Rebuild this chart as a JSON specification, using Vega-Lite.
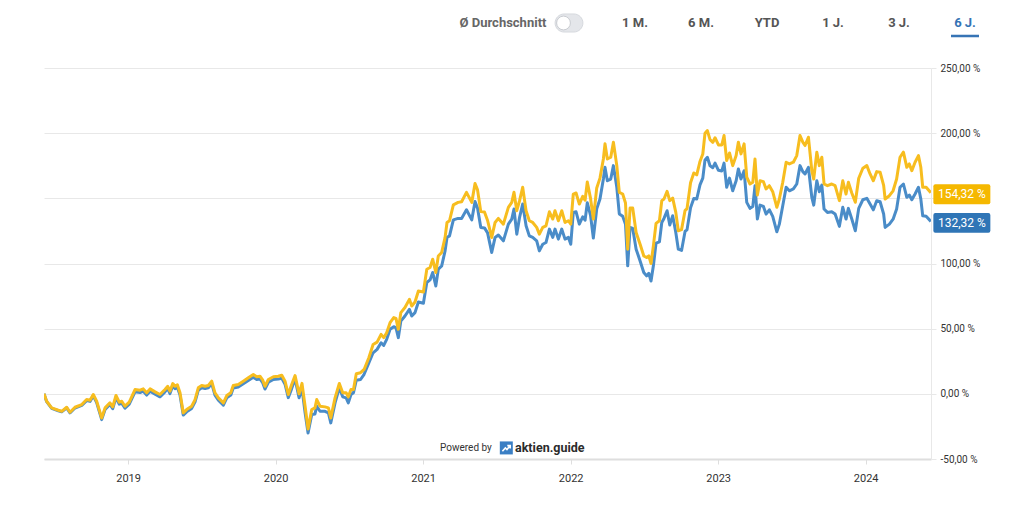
{
  "$schema": "https://vega.github.io/schema/vega-lite/v6.json",
  "padding": {"left": 44, "top": 0, "right": 10, "bottom": 6},
  "spacing": 15,
  "config": {"view": {"stroke": null}, "font": "Roboto"},
  "datasets": {
    "kurs": [
      {"t": 2018.430, "gelb": 0, "blau": 0},
      {"t": 2018.448, "gelb": -5.7, "blau": -6},
      {"t": 2018.482, "gelb": -10.8, "blau": -11.2},
      {"t": 2018.527, "gelb": -12.6, "blau": -13},
      {"t": 2018.550, "gelb": -13.4, "blau": -13.8},
      {"t": 2018.584, "gelb": -10.3, "blau": -10.8},
      {"t": 2018.606, "gelb": -14.1, "blau": -14.6},
      {"t": 2018.640, "gelb": -10.3, "blau": -10.9},
      {"t": 2018.686, "gelb": -8.2, "blau": -8.9},
      {"t": 2018.719, "gelb": -4.4, "blau": -5.2},
      {"t": 2018.742, "gelb": -4.9, "blau": -5.8},
      {"t": 2018.764, "gelb": -0.5, "blau": -1.5},
      {"t": 2018.787, "gelb": -5.7, "blau": -6.8},
      {"t": 2018.821, "gelb": -18.5, "blau": -19.8},
      {"t": 2018.844, "gelb": -10.8, "blau": -12},
      {"t": 2018.877, "gelb": -6.9, "blau": -8.2},
      {"t": 2018.896, "gelb": -10, "blau": -11.4},
      {"t": 2018.918, "gelb": -1.3, "blau": -2.8},
      {"t": 2018.940, "gelb": -6.4, "blau": -7.9},
      {"t": 2018.957, "gelb": -5.7, "blau": -7.2},
      {"t": 2018.979, "gelb": -9.5, "blau": -11},
      {"t": 2019.008, "gelb": -6.4, "blau": -7.9},
      {"t": 2019.047, "gelb": 3.3, "blau": 1.6},
      {"t": 2019.081, "gelb": 2.8, "blau": 1},
      {"t": 2019.103, "gelb": 3.8, "blau": 2},
      {"t": 2019.126, "gelb": 0.8, "blau": -1},
      {"t": 2019.149, "gelb": 3.8, "blau": 2},
      {"t": 2019.183, "gelb": 1.5, "blau": -0.3},
      {"t": 2019.216, "gelb": -0.5, "blau": -2.3},
      {"t": 2019.250, "gelb": 3.3, "blau": 1.5},
      {"t": 2019.269, "gelb": 5.8, "blau": 4},
      {"t": 2019.284, "gelb": 2, "blau": 0.2},
      {"t": 2019.303, "gelb": 7.9, "blau": 6},
      {"t": 2019.318, "gelb": 5.8, "blau": 4},
      {"t": 2019.334, "gelb": 6.9, "blau": 5},
      {"t": 2019.352, "gelb": 0.8, "blau": -1},
      {"t": 2019.374, "gelb": -14.6, "blau": -16.3},
      {"t": 2019.397, "gelb": -12.1, "blau": -13.8},
      {"t": 2019.431, "gelb": -9.5, "blau": -11.2},
      {"t": 2019.454, "gelb": -4.4, "blau": -6.1},
      {"t": 2019.476, "gelb": 4.6, "blau": 2.8},
      {"t": 2019.499, "gelb": 6.4, "blau": 4.6},
      {"t": 2019.522, "gelb": 5.8, "blau": 4},
      {"t": 2019.544, "gelb": 6.4, "blau": 4.6},
      {"t": 2019.567, "gelb": 9.7, "blau": 7.8},
      {"t": 2019.589, "gelb": 0.8, "blau": -1},
      {"t": 2019.612, "gelb": -3.1, "blau": -4.9},
      {"t": 2019.646, "gelb": -6.9, "blau": -8.7},
      {"t": 2019.669, "gelb": -1.3, "blau": -3.1},
      {"t": 2019.696, "gelb": 0.8, "blau": -1},
      {"t": 2019.713, "gelb": 6.4, "blau": 4.5},
      {"t": 2019.747, "gelb": 7.2, "blau": 5.3},
      {"t": 2019.781, "gelb": 9.7, "blau": 7.8},
      {"t": 2019.815, "gelb": 12.3, "blau": 10.3},
      {"t": 2019.849, "gelb": 14.8, "blau": 12.8},
      {"t": 2019.872, "gelb": 13.1, "blau": 11},
      {"t": 2019.894, "gelb": 13.5, "blau": 11.4},
      {"t": 2019.913, "gelb": 10.5, "blau": 8.4},
      {"t": 2019.928, "gelb": 5.8, "blau": 3.7},
      {"t": 2019.951, "gelb": 11, "blau": 8.9},
      {"t": 2019.985, "gelb": 13.1, "blau": 11},
      {"t": 2020.018, "gelb": 13.5, "blau": 11.3},
      {"t": 2020.042, "gelb": 14.3, "blau": 12},
      {"t": 2020.064, "gelb": 9.7, "blau": 7.4},
      {"t": 2020.086, "gelb": -0.5, "blau": -2.9},
      {"t": 2020.109, "gelb": 7.2, "blau": 4},
      {"t": 2020.132, "gelb": 14, "blau": 11.5},
      {"t": 2020.159, "gelb": 0, "blau": -3},
      {"t": 2020.179, "gelb": 8, "blau": 4},
      {"t": 2020.200, "gelb": -9.5, "blau": -14.6},
      {"t": 2020.220, "gelb": -27, "blau": -30},
      {"t": 2020.245, "gelb": -12.1, "blau": -15.9},
      {"t": 2020.267, "gelb": -10.8, "blau": -15.4},
      {"t": 2020.279, "gelb": -4.4, "blau": -9.5},
      {"t": 2020.301, "gelb": -9.5, "blau": -13.4},
      {"t": 2020.335, "gelb": -10, "blau": -13.4},
      {"t": 2020.358, "gelb": -10.8, "blau": -14.6},
      {"t": 2020.374, "gelb": -18.5, "blau": -22.3},
      {"t": 2020.403, "gelb": -3.1, "blau": -6.9},
      {"t": 2020.432, "gelb": 7.9, "blau": 4.6},
      {"t": 2020.455, "gelb": 0.8, "blau": -2.3},
      {"t": 2020.478, "gelb": 0.8, "blau": -3.1},
      {"t": 2020.493, "gelb": -2.3, "blau": -6.9},
      {"t": 2020.511, "gelb": 3.3, "blau": -0.5},
      {"t": 2020.528, "gelb": 3.3, "blau": 0.8},
      {"t": 2020.547, "gelb": 15.4, "blau": 10.5},
      {"t": 2020.576, "gelb": 16.2, "blau": 11},
      {"t": 2020.600, "gelb": 18.7, "blau": 15},
      {"t": 2020.632, "gelb": 27.7, "blau": 23.8},
      {"t": 2020.661, "gelb": 37.9, "blau": 31.5},
      {"t": 2020.688, "gelb": 39.7, "blau": 34.1},
      {"t": 2020.715, "gelb": 45.6, "blau": 39.2},
      {"t": 2020.733, "gelb": 43.1, "blau": 37.2},
      {"t": 2020.753, "gelb": 46.9, "blau": 41.8},
      {"t": 2020.776, "gelb": 54.6, "blau": 49.5},
      {"t": 2020.801, "gelb": 58.5, "blau": 51.5},
      {"t": 2020.816, "gelb": 57.9, "blau": 50.8},
      {"t": 2020.832, "gelb": 49.5, "blau": 43.1},
      {"t": 2020.849, "gelb": 62.3, "blau": 55.8},
      {"t": 2020.877, "gelb": 66.2, "blau": 59.7},
      {"t": 2020.907, "gelb": 72.5, "blau": 64.8},
      {"t": 2020.923, "gelb": 67.4, "blau": 59.7},
      {"t": 2020.945, "gelb": 70.5, "blau": 62.3},
      {"t": 2020.968, "gelb": 78.9, "blau": 70.5},
      {"t": 2021.002, "gelb": 78.2, "blau": 69.5},
      {"t": 2021.025, "gelb": 95.6, "blau": 85.4},
      {"t": 2021.047, "gelb": 96.9, "blau": 87.4},
      {"t": 2021.065, "gelb": 103.3, "blau": 93.1},
      {"t": 2021.086, "gelb": 93.1, "blau": 82.8},
      {"t": 2021.103, "gelb": 105.8, "blau": 95.6},
      {"t": 2021.126, "gelb": 108.5, "blau": 98.2},
      {"t": 2021.149, "gelb": 120, "blau": 109.7},
      {"t": 2021.162, "gelb": 131.5, "blau": 120},
      {"t": 2021.179, "gelb": 132.8, "blau": 121.2},
      {"t": 2021.205, "gelb": 145, "blau": 133.5},
      {"t": 2021.237, "gelb": 146.9, "blau": 134.6},
      {"t": 2021.261, "gelb": 147.4, "blau": 134.6},
      {"t": 2021.294, "gelb": 154.6, "blau": 141.2},
      {"t": 2021.330, "gelb": 146.9, "blau": 133.5},
      {"t": 2021.352, "gelb": 161.4, "blau": 147.5},
      {"t": 2021.369, "gelb": 156.5, "blau": 142.5},
      {"t": 2021.391, "gelb": 139.8, "blau": 127.7},
      {"t": 2021.416, "gelb": 139.5, "blau": 127.3},
      {"t": 2021.437, "gelb": 133, "blau": 123.5},
      {"t": 2021.465, "gelb": 120, "blau": 108.5},
      {"t": 2021.488, "gelb": 131.5, "blau": 120},
      {"t": 2021.510, "gelb": 134.6, "blau": 121.8},
      {"t": 2021.544, "gelb": 130.2, "blau": 117.4},
      {"t": 2021.578, "gelb": 143.1, "blau": 130.2},
      {"t": 2021.601, "gelb": 146.9, "blau": 134.1},
      {"t": 2021.616, "gelb": 154.6, "blau": 141.8},
      {"t": 2021.635, "gelb": 140.5, "blau": 122.5},
      {"t": 2021.654, "gelb": 148.2, "blau": 135.4},
      {"t": 2021.675, "gelb": 158.5, "blau": 145.6},
      {"t": 2021.698, "gelb": 140.5, "blau": 128.9},
      {"t": 2021.720, "gelb": 132.8, "blau": 121.2},
      {"t": 2021.743, "gelb": 131.5, "blau": 120},
      {"t": 2021.770, "gelb": 127.7, "blau": 117.4},
      {"t": 2021.788, "gelb": 122.5, "blau": 109.7},
      {"t": 2021.811, "gelb": 127.7, "blau": 114.8},
      {"t": 2021.833, "gelb": 128.9, "blau": 116.1},
      {"t": 2021.856, "gelb": 139.7, "blau": 126.4},
      {"t": 2021.879, "gelb": 134.1, "blau": 120},
      {"t": 2021.894, "gelb": 140.5, "blau": 126.4},
      {"t": 2021.917, "gelb": 132.8, "blau": 118.7},
      {"t": 2021.940, "gelb": 140.5, "blau": 126.4},
      {"t": 2021.962, "gelb": 131.5, "blau": 118.7},
      {"t": 2021.985, "gelb": 132.8, "blau": 120},
      {"t": 2022.001, "gelb": 130.2, "blau": 114.8},
      {"t": 2022.018, "gelb": 153.3, "blau": 139.2},
      {"t": 2022.037, "gelb": 154.1, "blau": 139.7},
      {"t": 2022.059, "gelb": 145.6, "blau": 130.2},
      {"t": 2022.082, "gelb": 151.5, "blau": 135.8},
      {"t": 2022.098, "gelb": 148.5, "blau": 133.2},
      {"t": 2022.113, "gelb": 162.5, "blau": 146.6},
      {"t": 2022.135, "gelb": 150, "blau": 137},
      {"t": 2022.154, "gelb": 134.1, "blau": 119.5},
      {"t": 2022.177, "gelb": 158, "blau": 142},
      {"t": 2022.199, "gelb": 165.5, "blau": 149.5},
      {"t": 2022.222, "gelb": 180.2, "blau": 164.8},
      {"t": 2022.233, "gelb": 191.8, "blau": 173.8},
      {"t": 2022.249, "gelb": 180.2, "blau": 163.5},
      {"t": 2022.272, "gelb": 181.5, "blau": 164.8},
      {"t": 2022.290, "gelb": 193.1, "blau": 175.1},
      {"t": 2022.313, "gelb": 175.1, "blau": 158.5},
      {"t": 2022.330, "gelb": 154.6, "blau": 138},
      {"t": 2022.353, "gelb": 153.3, "blau": 136.2},
      {"t": 2022.372, "gelb": 146.4, "blau": 130.2},
      {"t": 2022.387, "gelb": 111, "blau": 98.2},
      {"t": 2022.403, "gelb": 142.5, "blau": 127.7},
      {"t": 2022.421, "gelb": 142.5, "blau": 126.9},
      {"t": 2022.444, "gelb": 123.8, "blau": 111},
      {"t": 2022.471, "gelb": 114.8, "blau": 102},
      {"t": 2022.496, "gelb": 105.8, "blau": 93.1},
      {"t": 2022.515, "gelb": 104.6, "blau": 90.5},
      {"t": 2022.530, "gelb": 105.8, "blau": 92.5},
      {"t": 2022.545, "gelb": 100, "blau": 86.6},
      {"t": 2022.561, "gelb": 113.5, "blau": 98.2},
      {"t": 2022.579, "gelb": 130.8, "blau": 115.6},
      {"t": 2022.602, "gelb": 132.8, "blau": 116.6},
      {"t": 2022.618, "gelb": 148.2, "blau": 131.5},
      {"t": 2022.633, "gelb": 149.5, "blau": 134.6},
      {"t": 2022.654, "gelb": 155.4, "blau": 140.5},
      {"t": 2022.672, "gelb": 148.2, "blau": 129.5},
      {"t": 2022.692, "gelb": 150.2, "blau": 136.6},
      {"t": 2022.713, "gelb": 139.2, "blau": 123.8},
      {"t": 2022.730, "gelb": 125.1, "blau": 111},
      {"t": 2022.752, "gelb": 126, "blau": 110},
      {"t": 2022.776, "gelb": 140.8, "blau": 124.7},
      {"t": 2022.789, "gelb": 142, "blau": 125.8},
      {"t": 2022.813, "gelb": 162, "blau": 142.7},
      {"t": 2022.835, "gelb": 169.5, "blau": 149.8},
      {"t": 2022.855, "gelb": 168, "blau": 149.5},
      {"t": 2022.877, "gelb": 178.3, "blau": 160.3},
      {"t": 2022.896, "gelb": 184, "blau": 165.5},
      {"t": 2022.911, "gelb": 200, "blau": 179.5},
      {"t": 2022.927, "gelb": 202, "blau": 181.5},
      {"t": 2022.945, "gelb": 195, "blau": 175},
      {"t": 2022.964, "gelb": 193, "blau": 173.5},
      {"t": 2022.979, "gelb": 196.5, "blau": 177},
      {"t": 2023.002, "gelb": 191, "blau": 171.5},
      {"t": 2023.025, "gelb": 191, "blau": 171},
      {"t": 2023.040, "gelb": 198.2, "blau": 177},
      {"t": 2023.058, "gelb": 179, "blau": 158.5},
      {"t": 2023.077, "gelb": 184.8, "blau": 165.5},
      {"t": 2023.099, "gelb": 175.1, "blau": 155.8},
      {"t": 2023.122, "gelb": 182.8, "blau": 163.5},
      {"t": 2023.137, "gelb": 193.1, "blau": 172.5},
      {"t": 2023.155, "gelb": 184.1, "blau": 164.8},
      {"t": 2023.176, "gelb": 191.8, "blau": 171.2},
      {"t": 2023.194, "gelb": 166.2, "blau": 146.9},
      {"t": 2023.216, "gelb": 161, "blau": 142.3},
      {"t": 2023.235, "gelb": 162.3, "blau": 143.8},
      {"t": 2023.250, "gelb": 180.2, "blau": 159.7},
      {"t": 2023.266, "gelb": 152.5, "blau": 134.1},
      {"t": 2023.284, "gelb": 163.5, "blau": 144.8},
      {"t": 2023.307, "gelb": 162.8, "blau": 143.8},
      {"t": 2023.325, "gelb": 157.2, "blau": 137.9},
      {"t": 2023.347, "gelb": 159.7, "blau": 141.2},
      {"t": 2023.370, "gelb": 155.1, "blau": 136.2},
      {"t": 2023.398, "gelb": 143.1, "blau": 124.3},
      {"t": 2023.415, "gelb": 149.5, "blau": 130.2},
      {"t": 2023.438, "gelb": 162.3, "blau": 144.3},
      {"t": 2023.461, "gelb": 177.7, "blau": 158.5},
      {"t": 2023.483, "gelb": 176.4, "blau": 155.8},
      {"t": 2023.510, "gelb": 177.7, "blau": 157.2},
      {"t": 2023.533, "gelb": 182.8, "blau": 161},
      {"t": 2023.555, "gelb": 198.2, "blau": 175.1},
      {"t": 2023.574, "gelb": 193.1, "blau": 170.5},
      {"t": 2023.589, "gelb": 190.5, "blau": 168.7},
      {"t": 2023.612, "gelb": 196.9, "blau": 173.8},
      {"t": 2023.635, "gelb": 171.2, "blau": 150.8},
      {"t": 2023.648, "gelb": 164.8, "blau": 144.8},
      {"t": 2023.669, "gelb": 185.4, "blau": 163.5},
      {"t": 2023.686, "gelb": 175.1, "blau": 155.1},
      {"t": 2023.703, "gelb": 181.5, "blau": 160.2},
      {"t": 2023.718, "gelb": 161, "blau": 141.8},
      {"t": 2023.741, "gelb": 159.7, "blau": 139.2},
      {"t": 2023.770, "gelb": 161, "blau": 139.7},
      {"t": 2023.793, "gelb": 159.7, "blau": 137.9},
      {"t": 2023.822, "gelb": 148.2, "blau": 128.5},
      {"t": 2023.845, "gelb": 163.5, "blau": 143.1},
      {"t": 2023.867, "gelb": 153.3, "blau": 134.1},
      {"t": 2023.883, "gelb": 162.3, "blau": 142.3},
      {"t": 2023.906, "gelb": 154.1, "blau": 134.1},
      {"t": 2023.930, "gelb": 147, "blau": 125.1},
      {"t": 2023.953, "gelb": 165.4, "blau": 142.3},
      {"t": 2023.981, "gelb": 173.1, "blau": 148.9},
      {"t": 2024.008, "gelb": 175.1, "blau": 150},
      {"t": 2024.030, "gelb": 168.7, "blau": 145.6},
      {"t": 2024.052, "gelb": 163.5, "blau": 141.2},
      {"t": 2024.075, "gelb": 170.5, "blau": 148.2},
      {"t": 2024.098, "gelb": 170, "blau": 147.4},
      {"t": 2024.122, "gelb": 160, "blau": 138},
      {"t": 2024.132, "gelb": 149.5, "blau": 127.7},
      {"t": 2024.161, "gelb": 152, "blau": 130.2},
      {"t": 2024.186, "gelb": 155.8, "blau": 134},
      {"t": 2024.210, "gelb": 164.8, "blau": 141.8},
      {"t": 2024.233, "gelb": 181.5, "blau": 158.5},
      {"t": 2024.256, "gelb": 185.4, "blau": 161},
      {"t": 2024.279, "gelb": 173.8, "blau": 150.8},
      {"t": 2024.296, "gelb": 176.4, "blau": 152.5},
      {"t": 2024.313, "gelb": 171.2, "blau": 148.9},
      {"t": 2024.335, "gelb": 177.7, "blau": 153.3},
      {"t": 2024.358, "gelb": 182.8, "blau": 158.5},
      {"t": 2024.374, "gelb": 173.8, "blau": 149.5},
      {"t": 2024.387, "gelb": 158.5, "blau": 136.6},
      {"t": 2024.410, "gelb": 158.5, "blau": 136.2},
      {"t": 2024.442, "gelb": 154.32, "blau": 132.32}
    ]
  },
  "vconcat": [
    {
      "width": 950,
      "height": 48,
      "data": {
        "values": [
          {"item": "Ø Durchschnitt", "art": "label"},
          {"item": "toggle", "art": "toggle"},
          {"item": "1 M.", "art": "text"},
          {"item": "6 M.", "art": "text"},
          {"item": "YTD", "art": "text"},
          {"item": "1 J.", "art": "text"},
          {"item": "3 J.", "art": "text"},
          {"item": "6 J.", "art": "aktiv"}
        ]
      },
      "encoding": {
        "x": {
          "field": "item",
          "type": "nominal",
          "scale": {
            "type": "point",
            "domain": ["Ø Durchschnitt", "toggle", "1 M.", "6 M.", "YTD", "1 J.", "3 J.", "6 J."],
            "range": [459, 921],
            "padding": 0
          },
          "axis": null
        }
      },
      "layer": [
        {
          "transform": [{"filter": "datum.art != 'toggle'"}],
          "mark": {"type": "text", "fontSize": 13, "fontWeight": "bold", "baseline": "middle", "yOffset": -1},
          "encoding": {
            "text": {"field": "item"},
            "color": {
              "field": "art",
              "type": "nominal",
              "scale": {"domain": ["label", "text", "aktiv"], "range": ["#666666", "#555555", "#3674b5"]},
              "legend": null
            }
          }
        },
        {
          "transform": [{"filter": "datum.art == 'aktiv'"}],
          "mark": {"type": "point", "shape": "M-1,-0.09L1,-0.09L1,0.09L-1,0.09Z", "size": 784, "filled": true, "opacity": 1, "color": "#3674b5", "yOffset": 12}
        },
        {
          "transform": [{"filter": "datum.art == 'toggle'"}],
          "mark": {"type": "point", "shape": "M-0.4,-0.74L0.4,-0.74A0.74,0.74 0 0 1 0.4,0.74L-0.4,0.74A0.74,0.74 0 0 1 -0.4,-0.74Z", "size": 595, "filled": true, "opacity": 1, "fill": "#e4e6ea", "stroke": "#d6d9de", "strokeWidth": 1, "yOffset": -1}
        },
        {
          "transform": [{"filter": "datum.art == 'toggle'"}],
          "mark": {"type": "point", "shape": "circle", "size": 190, "filled": true, "opacity": 1, "fill": "#ffffff", "stroke": "#c9ccd1", "strokeWidth": 1, "xOffset": -5.5, "yOffset": -1}
        }
      ]
    },
    {
      "width": 887,
      "height": 391,
      "layer": [
        {
          "data": {"name": "kurs"},
          "transform": [{"fold": ["blau"], "as": ["serie", "wert"]}],
          "mark": {"type": "line", "color": "#4a8cc8", "strokeWidth": 3, "strokeJoin": "round", "clip": true},
          "encoding": {
            "x": {
              "field": "t",
              "type": "quantitative",
              "scale": {"domain": [2018.43, 2024.443], "nice": false, "zero": false},
              "axis": {
                "title": null,
                "values": [2019, 2020, 2021, 2022, 2023, 2024],
                "format": "d",
                "grid": false,
                "domainColor": "#dedede",
                "domainWidth": 2,
                "tickColor": "#dedede",
                "tickSize": 5,
                "labelColor": "#333333",
                "labelFontSize": 11,
                "labelPadding": 8
              }
            },
            "y": {
              "field": "wert",
              "type": "quantitative",
              "scale": {"domain": [-50, 250], "nice": false},
              "axis": {
                "orient": "right",
                "title": null,
                "values": [-50, 0, 50, 100, 150, 200, 250],
                "grid": true,
                "gridColor": "#e8e8e8",
                "domainColor": "#e8e8e8",
                "tickColor": "#e8e8e8",
                "tickSize": 5,
                "labelPadding": 4,
                "labelFontSize": 10,
                "labelColor": "#333333",
                "labelExpr": "datum.value == 150 ? '' : replace(replace(format(datum.value, '.2f'), '.', ','), '\u2212', '-') + ' %'"
              }
            }
          }
        },
        {
          "data": {"name": "kurs"},
          "transform": [{"fold": ["gelb"], "as": ["serie", "wert"]}],
          "mark": {"type": "line", "color": "#f7bd1f", "strokeWidth": 3, "strokeJoin": "round", "clip": true},
          "encoding": {
            "x": {"field": "t", "type": "quantitative", "scale": {"domain": [2018.43, 2024.443], "nice": false, "zero": false}},
            "y": {"field": "wert", "type": "quantitative", "scale": {"domain": [-50, 250], "nice": false}}
          }
        },
        {
          "data": {
            "values": [
              {"serie": "gelb", "t": 2024.442, "wert": 154.32, "text": "154,32 %"},
              {"serie": "blau", "t": 2024.442, "wert": 132.32, "text": "132,32 %"}
            ]
          },
          "encoding": {
            "x": {"field": "t", "type": "quantitative", "scale": {"domain": [2018.43, 2024.443], "nice": false, "zero": false}},
            "y": {"field": "wert", "type": "quantitative", "scale": {"domain": [-50, 250], "nice": false}}
          },
          "layer": [
            {
              "mark": {"type": "point", "shape": "M-0.93,-0.35L0.93,-0.35Q1,-0.35 1,-0.28L1,0.28Q1,0.35 0.93,0.35L-0.93,0.35Q-1,0.35 -1,0.28L-1,-0.28Q-1,-0.35 -0.93,-0.35Z", "size": 3249, "filled": true, "opacity": 1, "strokeWidth": 0, "xOffset": 31, "yOffset": 1.5},
              "encoding": {
                "fill": {
                  "field": "serie",
                  "type": "nominal",
                  "scale": {"domain": ["blau", "gelb"], "range": ["#2f75b6", "#f5b800"]},
                  "legend": null
                }
              }
            },
            {
              "mark": {"type": "text", "color": "#ffffff", "fontSize": 12, "align": "center", "baseline": "middle", "xOffset": 31, "yOffset": 1.5},
              "encoding": {"text": {"field": "text"}}
            }
          ]
        },
        {
          "data": {"values": [{"marke": "aktien.guide"}]},
          "layer": [
            {
              "mark": {"type": "text", "text": "Powered by", "align": "right", "baseline": "middle", "xOffset": -14.5, "fontSize": 10, "color": "#333333"},
              "encoding": {"x": {"datum": 2021.564, "type": "quantitative"}, "y": {"datum": -41.5, "type": "quantitative"}}
            },
            {
              "mark": {"type": "point", "shape": "square", "size": 169, "filled": true, "opacity": 1, "color": "#3b7fc4"},
              "encoding": {"x": {"datum": 2021.564, "type": "quantitative"}, "y": {"datum": -41.5, "type": "quantitative"}}
            },
            {
              "mark": {"type": "point", "shape": "M-0.6,0.5L-0.15,0L0.1,0.25L0.55,-0.3M0.15,-0.35L0.6,-0.35L0.6,0.1", "size": 169, "filled": false, "opacity": 1, "stroke": "#ffffff", "strokeWidth": 1.6},
              "encoding": {"x": {"datum": 2021.564, "type": "quantitative"}, "y": {"datum": -41.5, "type": "quantitative"}}
            },
            {
              "mark": {"type": "text", "align": "left", "baseline": "middle", "xOffset": 8.7, "fontSize": 12.5, "fontWeight": "bold", "color": "#2b2b2b"},
              "encoding": {"x": {"datum": 2021.564, "type": "quantitative"}, "y": {"datum": -41.5, "type": "quantitative"}, "text": {"field": "marke"}}
            }
          ]
        }
      ]
    }
  ]
}
